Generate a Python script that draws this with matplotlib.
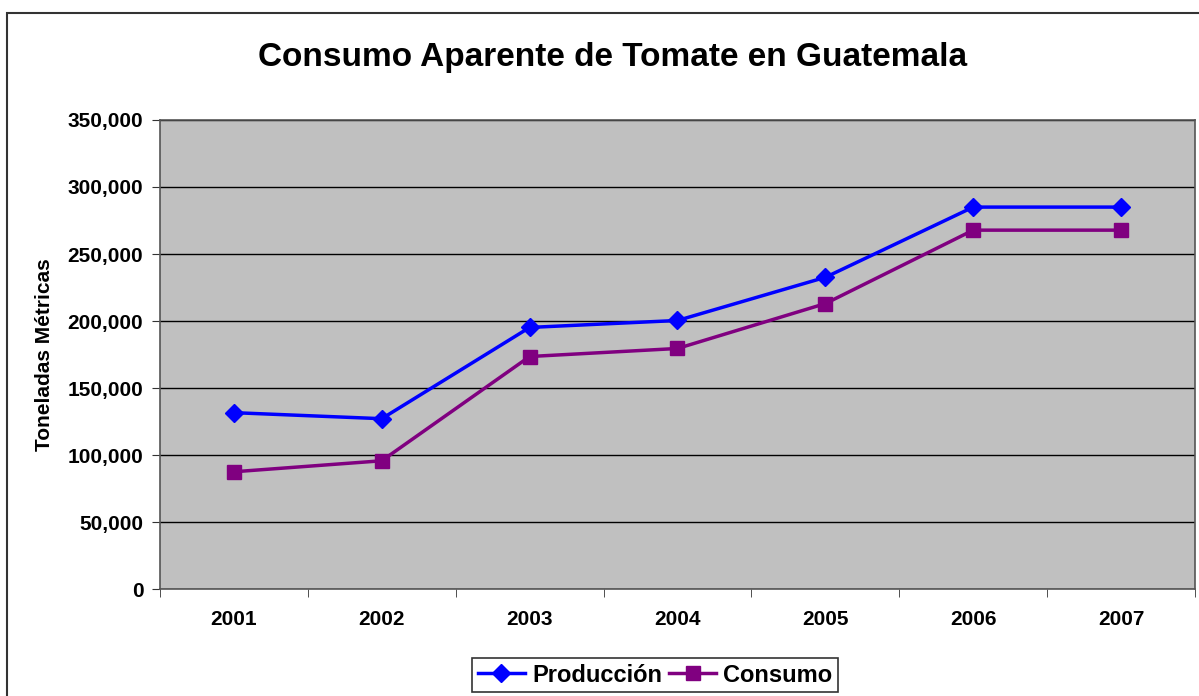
import matplotlib.pyplot as plt
from matplotlib.patches import Rectangle
from matplotlib.ticker import FuncFormatter, FixedLocator

# Data
years = ["2001", "2002", "2003", "2004", "2005", "2006", "2007"]
produccion = [131600, 127100, 195200, 200400, 232600, 285000, 285000]
consumo = [87500, 95700, 173500, 179500, 213000, 267800, 267800]

plt.rcParams["font.family"] = ["Liberation Sans", "DejaVu Sans"]

fig = plt.figure(figsize=(11.99, 6.96), dpi=100)
ax = fig.add_axes([0.1334, 0.1537, 0.8633, 0.6739])

# outer chart border (cut off at right and bottom like the original)
fig.patches.append(Rectangle((7 / 1199, -0.05), 1.2, 1 - 13 / 696 + 0.05,
                             transform=fig.transFigure, fill=False,
                             edgecolor="#333333", linewidth=1.5))

x = list(range(len(years)))
ax.plot(x, produccion, color="#0000FF", marker="D", markersize=9, linewidth=2.5,
        label="Producción")
ax.plot(x, consumo, color="#800080", marker="s", markersize=10, linewidth=2.5,
        label="Consumo")

ax.set_facecolor("#C0C0C0")
ax.set_xlim(-0.5, len(years) - 0.5)
ax.set_ylim(0, 350000)
ax.set_yticks(range(0, 350001, 50000))
ax.yaxis.set_major_formatter(FuncFormatter(lambda v, p: f"{int(v):,}"))
ax.grid(axis="y", color="black", linewidth=1)
ax.set_axisbelow(True)

# category labels in the middle, tick marks on the boundaries
ax.set_xticks(x)
ax.set_xticklabels(years, fontsize=15, fontweight="bold")
ax.tick_params(axis="x", which="major", length=0, pad=15)
ax.xaxis.set_minor_locator(FixedLocator([i - 0.5 for i in range(len(years) + 1)]))
ax.tick_params(axis="x", which="minor", length=6, color="#333333")
ax.tick_params(axis="y", length=6, color="#333333", labelsize=15, pad=6)
for lbl in ax.get_yticklabels():
    lbl.set_fontweight("bold")

for side in ["left", "bottom", "top", "right"]:
    ax.spines[side].set_color("#555555")
    ax.spines[side].set_linewidth(1.2)

ax.set_ylabel("Toneladas Métricas", fontsize=15, fontweight="bold", labelpad=10)
fig.text(0.511, 0.917, "Consumo Aparente de Tomate en Guatemala",
         ha="center", va="center", fontsize=24, fontweight="bold")

leg = fig.legend(loc="center", bbox_to_anchor=(655 / 1199, 1 - 675 / 696), ncol=2,
                 prop={"size": 17, "weight": "bold"}, frameon=True, fancybox=False,
                 edgecolor="black", handlelength=2.0, handletextpad=0.3,
                 columnspacing=0.3, borderpad=0.25)
leg.get_frame().set_linewidth(1.2)

fig.savefig("out.png", dpi=100)
